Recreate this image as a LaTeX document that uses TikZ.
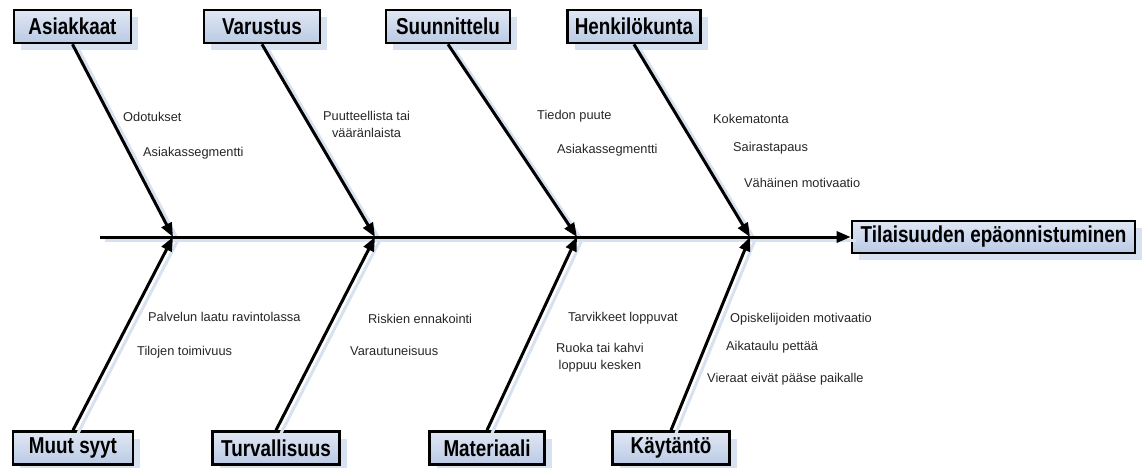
\documentclass[tikz,border=0pt]{standalone}
\usepackage{fontspec}
\setmainfont{Liberation Sans}
\newfontfamily\boxfont[FakeStretch=0.82]{Liberation Sans}
\usetikzlibrary{arrows.meta,shadows}
\definecolor{boxtop}{RGB}{224,231,244}
\definecolor{boxbot}{RGB}{186,202,228}
\definecolor{shade}{RGB}{216,225,240}
\definecolor{txt}{RGB}{38,38,38}

\begin{document}
\begin{tikzpicture}[x=1pt,y=-1pt,>={Triangle[length=14pt,width=11pt]},
  cause/.style={draw=black,line width=2.6pt,top color=boxtop,bottom color=boxbot,
    minimum height=33pt,inner sep=0pt,font=\boxfont\bfseries\fontsize{23}{26}\selectfont,
    drop shadow={shadow xshift=7pt,shadow yshift=-7pt,fill=shade,opacity=1}},
  bone/.style={line width=3pt},
  boneshade/.style={draw=shade,line width=3pt,transform canvas={shift={(5pt,-3pt)}}},
  lbl/.style={anchor=west,inner sep=0pt,text=txt,align=center,
    font=\fontsize{12.8}{17}\selectfont}]
  \useasboundingbox (0,0) rectangle (1143,467);
  % Spine: start, the four junctions where the bones meet it
  \coordinate (alku) at (100,237);
  \coordinate (p1) at (173,237);
  \coordinate (p2) at (375,237);
  \coordinate (p3) at (577,237);
  \coordinate (p4) at (750,237);
  % Cause boxes, top row and bottom row
  \node[cause,minimum width=117pt] (asiak) at (72.5,26.5) {Asiakkaat};
  \node[cause,minimum width=116pt] (varus) at (262,26.5) {Varustus};
  \node[cause,minimum width=124pt] (suunn) at (448,26.5) {Suunnittelu};
  \node[cause,minimum width=133pt] (henki) at (634,26.5) {Henkilökunta};
  \node[cause,minimum width=120pt] (muut) at (73,448) {Muut syyt};
  \node[cause,minimum width=127pt] (turva) at (276,448) {Turvallisuus};
  \node[cause,minimum width=115pt] (mater) at (487,448) {Materiaali};
  \node[cause,minimum width=117pt] (kayta) at (671,448) {Käytäntö};
  % Effect
  \node[cause,minimum width=283pt,minimum height=32pt] (tulos) at (993.5,237) {Tilaisuuden epäonnistuminen};
  % Bones (faint shadow first)
  \draw[boneshade] (alku) -- (tulos.west);
  \foreach \b/\p in {asiak/p1,varus/p2,suunn/p3,henki/p4}
    \draw[boneshade] (\b.south) -- (\p);
  \foreach \b/\p in {muut/p1,turva/p2,mater/p3,kayta/p4}
    \draw[boneshade] (\b.north) -- (\p);
  \draw[->,bone] (alku) -- (tulos);
  \foreach \b/\p in {asiak/p1,varus/p2,suunn/p3,henki/p4}
    \draw[->,bone] (\b.south) -- (\p);
  \foreach \b/\p in {muut/p1,turva/p2,mater/p3,kayta/p4}
    \draw[->,bone] (\b.north) -- (\p);
  % Sub-causes, top
  \node[lbl] (odot) at (123,117) {Odotukset};
  \node[lbl] (seg1) at (143,153) {Asiakassegmentti};
  \node[lbl] (puute) at (323,124.5) {Puutteellista tai\\vääränlaista};
  \node[lbl] (tieto) at (537,116) {Tiedon puute};
  \node[lbl] (seg2) at (557,150) {Asiakassegmentti};
  \node[lbl] (koke) at (713,119) {Kokematonta};
  \node[lbl] (sair) at (733,148) {Sairastapaus};
  \node[lbl] (moti) at (744,183) {Vähäinen motivaatio};
  % Sub-causes, bottom
  \node[lbl] (palv) at (148,317) {Palvelun laatu ravintolassa};
  \node[lbl] (tilat) at (137,352) {Tilojen toimivuus};
  \node[lbl] (riski) at (368,319) {Riskien ennakointi};
  \node[lbl] (varau) at (350,351) {Varautuneisuus};
  \node[lbl] (tarv) at (568,318) {Tarvikkeet loppuvat};
  \node[lbl] (ruoka) at (556,358) {Ruoka tai kahvi\\loppuu kesken};
  \node[lbl] (opisk) at (730,319) {Opiskelijoiden motivaatio};
  \node[lbl] (aika) at (726,347) {Aikataulu pettää};
  \node[lbl] (vier) at (707,379) {Vieraat eivät pääse paikalle};
\end{tikzpicture}
\end{document}
